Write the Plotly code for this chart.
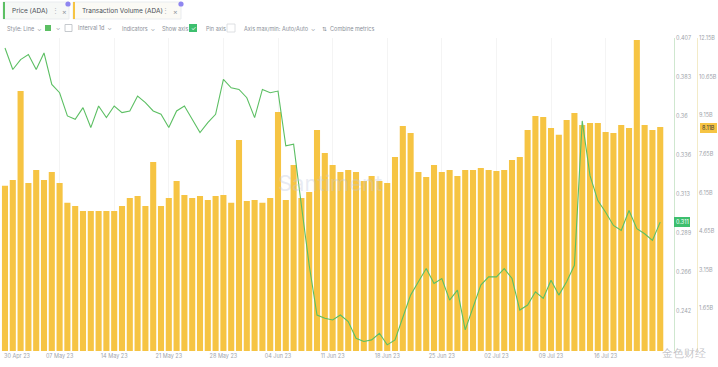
import pandas as pd
import plotly.graph_objects as go

# ---------------- data ----------------
start_date = "2023-04-30"
n_days = 85
dates = pd.date_range(start_date, periods=n_days, freq="D")

price_ada = [
    0.401, 0.388, 0.394, 0.397, 0.388, 0.398, 0.379, 0.374, 0.360, 0.358,
    0.365, 0.353, 0.366, 0.359, 0.366, 0.362, 0.363, 0.372, 0.368, 0.363,
    0.361, 0.353, 0.363, 0.366, 0.358, 0.350, 0.356, 0.361, 0.382, 0.377,
    0.376, 0.371, 0.359, 0.376, 0.374, 0.375, 0.342, 0.343, 0.306, 0.270,
    0.240, 0.238, 0.237, 0.240, 0.236, 0.226, 0.224, 0.225, 0.229, 0.222,
    0.225, 0.238, 0.252, 0.260, 0.268, 0.259, 0.262, 0.249, 0.255, 0.231,
    0.245, 0.258, 0.263, 0.263, 0.268, 0.262, 0.243, 0.246, 0.254, 0.250,
    0.261, 0.252, 0.260, 0.270, 0.357, 0.324, 0.309, 0.302, 0.294, 0.291,
    0.303, 0.292, 0.289, 0.285, 0.296,
]

volume_b = [
    6.41, 6.64, 10.09, 6.52, 7.03, 6.64, 6.95, 6.52, 5.75, 5.63,
    5.43, 5.43, 5.43, 5.43, 5.43, 5.63, 5.94, 6.02, 5.63, 7.34,
    5.63, 5.94, 6.60, 6.06, 5.94, 6.02, 5.86, 6.02, 6.06, 5.75,
    8.19, 5.82, 5.86, 5.75, 5.94, 9.28, 5.86, 7.22, 5.94, 6.17,
    8.58, 7.69, 7.22, 6.95, 7.03, 6.95, 6.60, 6.79, 6.60, 6.52,
    7.53, 8.73, 8.46, 6.95, 6.75, 7.22, 6.95, 7.03, 6.79, 7.03,
    7.03, 7.10, 7.03, 6.99, 7.03, 7.41, 7.53, 8.58, 9.12, 9.08,
    8.66, 8.39, 8.97, 9.24, 8.77, 8.85, 8.85, 8.50, 8.46, 8.77,
    8.66, 12.07, 8.77, 8.58, 8.70,
]

x_tick_dates = ["2023-05-07", "2023-05-14", "2023-05-21", "2023-05-28",
                "2023-06-04", "2023-06-11", "2023-06-18", "2023-06-25",
                "2023-07-02", "2023-07-09", "2023-07-16"]
x_tick_labels = ["07 May 23", "14 May 23", "21 May 23", "28 May 23",
                 "04 Jun 23", "11 Jun 23", "18 Jun 23", "25 Jun 23",
                 "02 Jul 23", "09 Jul 23", "16 Jul 23"]
first_label = "30 Apr 23"

price_ticks = [0.407, 0.3835, 0.360, 0.3365, 0.313, 0.2895, 0.266, 0.2425]
price_tick_labels = ["0.407", "0.383", "0.36", "0.336", "0.313", "0.289", "0.266", "0.242"]
price_range = [0.2183, 0.407]

volume_ticks = [1.65, 3.15, 4.65, 6.15, 7.65, 9.15, 10.65, 12.15]
volume_tick_labels = ["1.65B", "3.15B", "4.65B", "6.15B", "7.65B", "9.15B", "10.65B", "12.15B"]
volume_range = [0, 12.15]

last_price_label = "0.311"
last_volume_label = "8.11B"

# ---------------- layout helpers ----------------
W, H = 718, 367
M_T, M_B = 38, 16
PLOT_H = H - M_T - M_B


def px_x(px):
    return px / W


def px_y(py):
    return (H - M_B - py) / PLOT_H


GREEN = "#5cbf63"
YELLOW = "#f6c443"
GREY = "#8a8f98"
FONT = "Inter, Lato, Noto Sans, sans-serif"

fig = go.Figure()

fig.add_trace(go.Bar(
    x=dates, y=volume_b, marker=dict(color=YELLOW, line=dict(width=0)),
    yaxis="y", name="Transaction Volume (ADA)",
))
fig.add_trace(go.Scatter(
    x=dates, y=price_ada, mode="lines", line=dict(color=GREEN, width=1.1),
    yaxis="y2", name="Price (ADA)",
))

x0 = pd.Timestamp(start_date) - pd.Timedelta(hours=0.64 * 24)
x1 = pd.Timestamp(start_date) + pd.Timedelta(hours=84.74 * 24)

fig.update_layout(
    width=W, height=H,
    margin=dict(l=0, r=0, t=M_T, b=M_B, pad=0),
    paper_bgcolor="white", plot_bgcolor="white",
    showlegend=False, bargap=0.22,
    font=dict(family=FONT, size=6, color=GREY),
    xaxis=dict(
        domain=[0, 666 / W], range=[x0, x1], type="date",
        tickvals=x_tick_dates, ticktext=x_tick_labels,
        tickfont=dict(size=5.5, color="#a0a4ab"), ticks="", ticklen=0,
        showgrid=True, gridcolor="#f4f4f4", gridwidth=1,
        showline=False, zeroline=False,
    ),
    yaxis=dict(
        range=volume_range, anchor="free", position=697 / W, side="right",
        tickvals=volume_ticks, ticktext=volume_tick_labels,
        tickfont=dict(size=5.5, color="#a0a4ab"), ticks="",
        showline=True, linecolor="#f3ebc8", linewidth=1,
        showgrid=False, zeroline=False,
    ),
    yaxis2=dict(
        range=price_range, overlaying="y", anchor="free", position=674 / W,
        side="right",
        tickvals=price_ticks, ticktext=price_tick_labels,
        tickfont=dict(size=5.5, color="#a0a4ab"), ticks="",
        showline=True, linecolor="#cfe7cf", linewidth=1,
        showgrid=False, zeroline=False,
    ),
)

shapes = []
ann = []


def text(px, py, s, size=6, color="#6b7079", xanchor="left", yanchor="middle", **kw):
    ann.append(dict(x=px_x(px), y=px_y(py), xref="paper", yref="paper", text=s,
                    showarrow=False, xanchor=xanchor, yanchor=yanchor,
                    font=dict(size=size, color=color, family=FONT), **kw))


def rect(x_a, y_a, x_b, y_b, fill="rgba(0,0,0,0)", line="rgba(0,0,0,0)", lw=1, layer="above"):
    shapes.append(dict(type="rect", xref="paper", yref="paper",
                       x0=px_x(x_a), x1=px_x(x_b), y0=px_y(y_b), y1=px_y(y_a),
                       fillcolor=fill, line=dict(color=line, width=lw), layer=layer))


def circle(cx, cy, r, fill):
    shapes.append(dict(type="circle", xref="paper", yref="paper",
                       x0=px_x(cx - r), x1=px_x(cx + r), y0=px_y(cy + r), y1=px_y(cy - r),
                       fillcolor=fill, line=dict(width=0)))


# ---- metric pills (row 1) ----
rect(3, 2, 69, 19, fill="#f6f8f6", line="#e9ecef")
rect(3, 2, 5, 19, fill=GREEN)
text(10, 11, "Price (ADA)", size=6.5, color="#4a4f57")
text(50, 11, "⋮", size=6.5, color="#b0b4ba")
text(60, 11, "×", size=7, color="#9096a0")
circle(68, 4, 2.6, "#8f86f0")

rect(73, 2, 181, 19, fill="#fbfaf5", line="#e9ecef")
rect(73, 2, 75, 19, fill=YELLOW)
text(80, 11, "Transaction Volume (ADA)", size=6.5, color="#4a4f57")
text(160, 11, "⋮", size=6.5, color="#b0b4ba")
text(171, 11, "×", size=7, color="#9096a0")
circle(181, 4, 2.6, "#8f86f0")

# ---- settings row (row 2) ----
ry = 28
text(5, ry, "Style: Line  ⌄", size=5.5, color="#8a8f98")
rect(45, ry - 3, 51, ry + 3, fill=GREEN)
text(54, ry, "⌄", size=5.5, color="#8a8f98")
rect(65, ry - 3.5, 72, ry + 3.5, line="#b8bcc2", lw=0.8)
text(76, ry, "Interval 1d  ⌄", size=5.5, color="#8a8f98")
text(120, ry, "Indicators  ⌄", size=5.5, color="#8a8f98")
text(160, ry, "Show axis", size=5.5, color="#8a8f98")
rect(189, ry - 4, 197, ry + 4, fill="#3dbf6e")
text(193, ry, "✓", size=6, color="white", xanchor="center")
text(204, ry, "Pin axis", size=5.5, color="#8a8f98")
rect(227, ry - 4, 235, ry + 4, line="#d5d8dc", lw=0.8)
text(242, ry, "Axis max/min: Auto/Auto  ⌄", size=5.5, color="#8a8f98")
text(320, ry, "⇅  Combine metrics", size=5.5, color="#8a8f98")

# ---- first x label (kept inside the figure) ----
text(17, 356, first_label, size=5.5, color="#a0a4ab", xanchor="center")

# ---- last-value tags ----
rect(674, 217, 690, 227, fill="#3dbf6e")
text(682, 222, last_price_label, size=5.5, color="white", xanchor="center")
rect(700, 123, 717, 133, fill=YELLOW)
text(708.5, 128, last_volume_label, size=5.5, color="#3a3a3a", xanchor="center")

# ---- watermarks ----
text(330, 183, "Santiment", size=22, color="rgba(190,198,220,0.35)", xanchor="center")
text(684, 353, "金色财经", size=11, color="rgba(120,120,130,0.45)", xanchor="center")

fig.update_layout(shapes=shapes, annotations=ann)

fig.write_html(
    "out.html",
    config={"displayModeBar": False},
    post_script="document.body.style.margin='0';document.body.style.padding='0';",
)
